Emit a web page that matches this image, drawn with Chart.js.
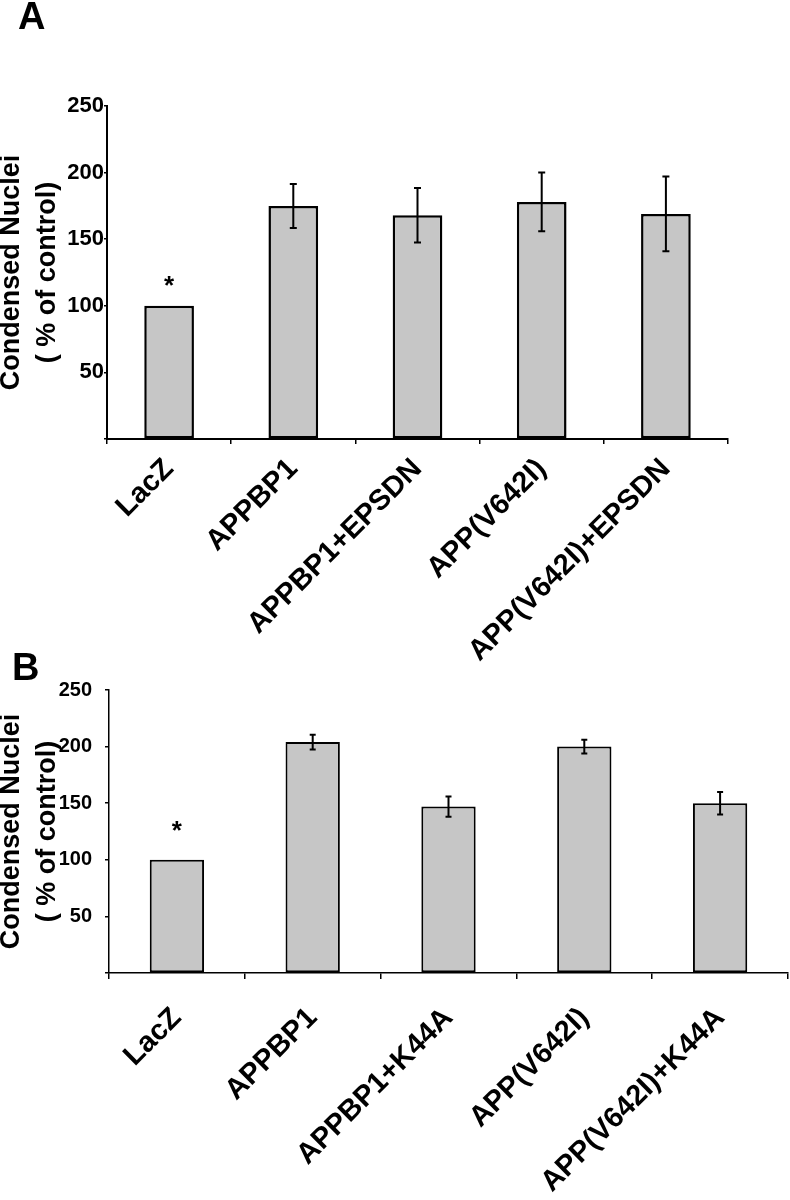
<!DOCTYPE html>
<html>
<head>
<meta charset="utf-8">
<script src="https://cdn.jsdelivr.net/npm/chart.js@4.4.1/dist/chart.umd.min.js"></script>
<style>
  body { margin: 0; background: #fff; }
  #wrap { position: relative; width: 790px; height: 1200px; overflow: hidden; font-family: "Liberation Sans", Arial, sans-serif; }
  .panel { position: absolute; left: 0; width: 790px; }
  .letra { position: absolute; font-weight: bold; font-size: 38px; line-height: 38px; color: #000; }
</style>
</head>
<body>
<div id="wrap">
  <div class="panel" style="top:0;height:700px"><canvas id="chartA"></canvas></div>
  <div class="panel" style="top:620px;height:580px"><canvas id="chartB"></canvas></div>
  <div class="letra" style="left:18px;top:-3px">A</div>
  <div class="letra" style="left:12px;top:648px">B</div>
</div>
<script>
// datos
const ticksY = [0, 50, 100, 150, 200, 250];

const etiquetasA = ['LacZ', 'APPBP1', 'APPBP1+EPSDN', 'APP(V642I)', 'APP(V642I)+EPSDN'];
const valoresA = [100, 175, 168, 178, 169];
const erroresA = [0, 16.5, 20.5, 22, 28];
const asteriscoA = [114, null, null, null, null];

const etiquetasB = ['LacZ', 'APPBP1', 'APPBP1+K44A', 'APP(V642I)', 'APP(V642I)+K44A'];
const valoresB = [100, 204, 147, 200, 150];
const erroresB = [0, 6.5, 9, 6, 10];
const asteriscoB = [125, null, null, null, null];

const fuente = '"Liberation Sans", Arial, sans-serif';

// barras de error y asterisco
const barrasError = {
    id: 'barrasError',
    afterDatasetsDraw(chart, args, opts) {
        const ctx = chart.ctx;
        const y = chart.scales.y;
        const datos = chart.data.datasets[0].data;
        ctx.save();
        ctx.strokeStyle = '#000';
        ctx.fillStyle = '#000';
        ctx.lineWidth = opts.grosor;
        ctx.font = 'bold 26px ' + fuente;
        ctx.textAlign = 'center';
        ctx.textBaseline = 'middle';
        chart.getDatasetMeta(0).data.forEach((bar, i) => {
            const e = opts.errores[i];
            if (e) {
                const arriba = y.getPixelForValue(datos[i] + e);
                const abajo = y.getPixelForValue(datos[i] - e);
                ctx.beginPath();
                ctx.moveTo(bar.x, arriba); ctx.lineTo(bar.x, abajo);
                ctx.moveTo(bar.x - opts.tapa, arriba); ctx.lineTo(bar.x + opts.tapa, arriba);
                ctx.moveTo(bar.x - opts.tapa, abajo); ctx.lineTo(bar.x + opts.tapa, abajo);
                ctx.stroke();
            }
            const s = opts.asterisco[i];
            if (s != null) {
                ctx.fillText('*', bar.x, y.getPixelForValue(s));
            }
        });
        ctx.restore();
    }
};

function crearGrafico(id, cfg) {
    const ctx = document.getElementById(id).getContext('2d');
    return new Chart(ctx, {
        type: 'bar',
        data: {
            labels: cfg.etiquetas,
            datasets: [{
                data: cfg.valores,
                backgroundColor: '#c6c6c6',
                borderColor: '#000',
                borderWidth: cfg.borde,
                borderSkipped: false,
                barPercentage: 0.4,
                categoryPercentage: 1
            }]
        },
        plugins: [barrasError],
        options: {
            responsive: true,
            maintainAspectRatio: false,
            animation: false,
            layout: { padding: cfg.padding },
            plugins: {
                legend: { display: false },
                tooltip: { enabled: false },
                barrasError: { errores: cfg.errores, asterisco: cfg.asterisco, grosor: 2, tapa: cfg.tapa }
            },
            scales: {
                x: {
                    grid: { drawOnChartArea: false, drawTicks: true, tickLength: cfg.tickX, color: '#000', lineWidth: 1.5, offset: true },
                    border: { display: true, color: '#000', width: cfg.eje },
                    ticks: {
                        color: '#000',
                        font: { family: fuente, size: 29, weight: 'bold' },
                        minRotation: 45, maxRotation: 45, autoSkip: false,
                        padding: cfg.padX
                    },
                    afterFit: (s) => { s.height = cfg.altoX; s.paddingLeft = 0; s.paddingRight = 0; }
                },
                y: {
                    min: 0, max: 250,
                    afterBuildTicks: (s) => { s.ticks = ticksY.map(v => ({ value: v })); },
                    grid: { drawOnChartArea: false, drawTicks: true, tickLength: cfg.tickY, color: '#000', lineWidth: 1.5 },
                    border: { display: true, color: '#000', width: cfg.eje },
                    ticks: {
                        color: '#000',
                        font: { family: fuente, size: cfg.tamY, weight: 'bold' },
                        padding: cfg.padY,
                        callback: (v) => v === 0 ? '' : v
                    },
                    title: {
                        display: true,
                        text: ['Condensed Nuclei', '( % of control)'],
                        color: '#000',
                        font: { family: fuente, size: 27, weight: 'bold', lineHeight: 1.333 },
                        padding: { top: -6, bottom: 0 }
                    },
                    afterFit: (s) => { s.width = cfg.anchoY; }
                }
            }
        }
    });
}

crearGrafico('chartA', {
    etiquetas: etiquetasA, valores: valoresA, errores: erroresA, asterisco: asteriscoA,
    borde: 2.5, eje: 2, tapa: 3.5, tickX: 5, tickY: 3, padX: 8, padY: 0, tamY: 22,
    anchoY: 107, altoX: 261,
    padding: { top: 106, right: 62, left: 0, bottom: 0 }
});

crearGrafico('chartB', {
    etiquetas: etiquetasB, valores: valoresB, errores: erroresB, asterisco: asteriscoB,
    borde: 2, eje: 1.5, tapa: 3, tickX: 6, tickY: 4, padX: 22, padY: 13, tamY: 20,
    anchoY: 109, altoX: 227,
    padding: { top: 70, right: 2, left: 0, bottom: 0 }
});
</script>
</body>
</html>
